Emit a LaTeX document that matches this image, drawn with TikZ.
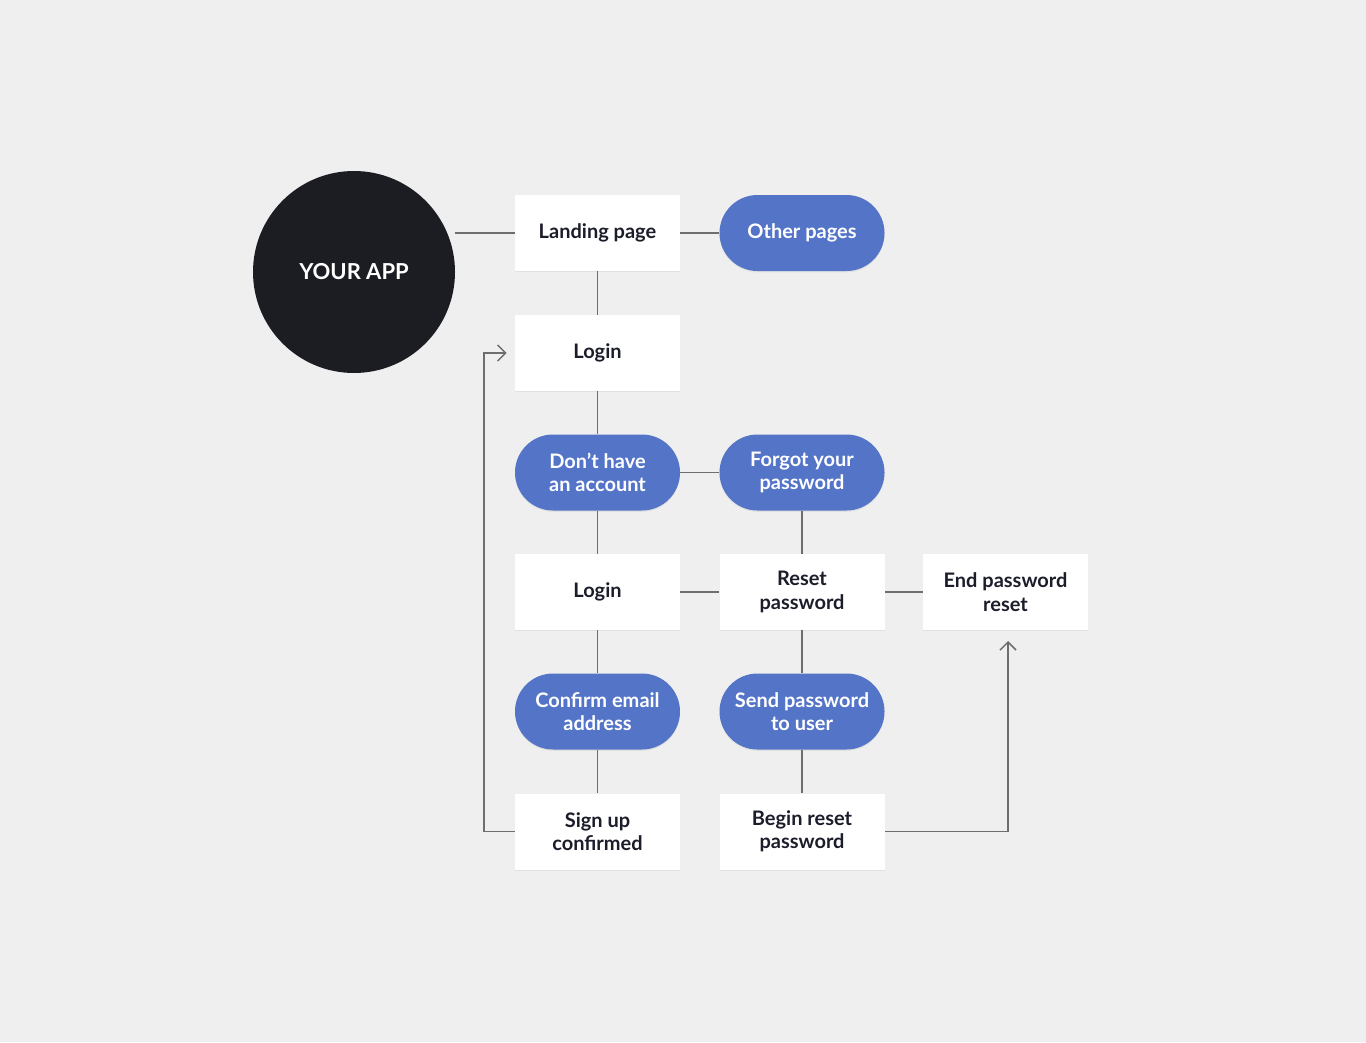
\documentclass[tikz,border=0pt]{standalone}
\usepackage{fontspec}
\setmainfont{Lato}
\usetikzlibrary{arrows.meta,shadows}
\definecolor{bg}{HTML}{EFEFEF}
\definecolor{pill}{HTML}{5474C8}
\definecolor{ink}{HTML}{1C1D2B}
\definecolor{appc}{HTML}{1C1D22}
\definecolor{wire}{HTML}{6E6E6E}
\tikzset{
  base/.style={minimum width=123.75pt,minimum height=57pt,inner sep=0pt,align=center,
    font=\fontsize{15}{17.5}\selectfont\bfseries,
    drop shadow={shadow xshift=0pt,shadow yshift=-1pt,opacity=0.12}},
  boxnode/.style={base,fill=white,text=ink},
  pillnode/.style={base,fill=pill,text=white,rounded corners=28.5pt},
  wireline/.style={draw=wire,line width=1.1pt},
  arrowline/.style={wireline,-{Straight Barb[length=6pt,width=12pt,line width=1.1pt]}},
}
\begin{document}
\begin{tikzpicture}[x=0.75pt,y=-0.75pt]
\fill[bg] (0,0) rectangle (1366,1042);
\useasboundingbox (0,0) rectangle (1366,1042);
\node[circle,fill=appc,minimum size=151.5pt,inner sep=0pt,text=white,font=\fontsize{16.5}{19}\selectfont\bfseries] (app) at (354,272) {YOUR APP};
\node[boxnode] (landing) at (597.5,233) {Landing page};
\node[pillnode] (other) at (802,233) {Other pages};
\node[boxnode] (login1) at (597.5,353) {Login};
\node[pillnode] (dont) at (597.5,472.5) {Don’t have\\an account};
\node[pillnode] (forgot) at (802,472.5) {Forgot your\\password};
\node[boxnode] (login2) at (597.5,592) {Login};
\node[boxnode] (reset) at (802,592) {Reset\\password};
\node[boxnode] (endreset) at (1005.5,592) {End password\\reset};
\node[pillnode] (confirm) at (597.5,711.5) {Confirm email\\address};
\node[pillnode] (send) at (802,711.5) {Send password\\to user};
\node[boxnode] (signup) at (597.5,831.5) {Sign up\\confirmed};
\node[boxnode] (begin) at (802,831.5) {Begin reset\\password};
\coordinate (la) at (484,831.5);
\coordinate (lb) at (484,353);
\coordinate (ra) at (1008,831.5);
\coordinate (rb) at (1008,641);
\draw[wireline] (app.east |- landing.west) -- (landing.west);
\draw[wireline] (landing) -- (other);
\draw[wireline] (landing) -- (login1);
\draw[wireline] (login1) -- (dont);
\draw[wireline] (dont) -- (forgot);
\draw[wireline] (dont) -- (login2);
\draw[wireline] (forgot) -- (reset);
\draw[wireline] (login2) -- (reset);
\draw[wireline] (reset) -- (endreset);
\draw[wireline] (login2) -- (confirm);
\draw[wireline] (reset) -- (send);
\draw[wireline] (confirm) -- (signup);
\draw[wireline] (send) -- (begin);
\draw[arrowline] (signup.west) -- (la) -- (lb) -- ([xshift=-6pt]login1.west);
\draw[arrowline] (begin.east) -- (ra) -- (rb);
\end{tikzpicture}
\end{document}
